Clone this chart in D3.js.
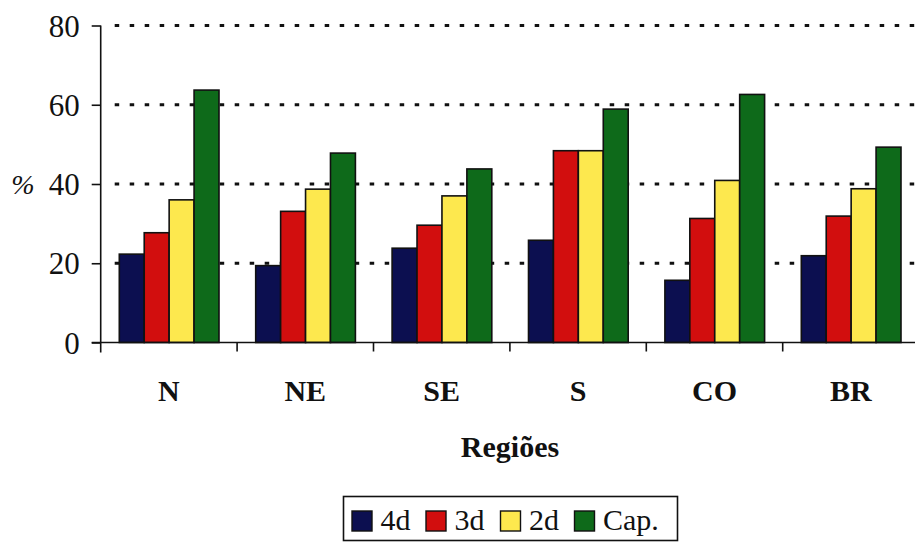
<!DOCTYPE html>
<html>
<head>
<meta charset="utf-8">
<script src="https://cdn.jsdelivr.net/npm/d3@7"></script>
<style>
  html, body { margin: 0; padding: 0; background: #fff; }
  svg { display: block; }
</style>
</head>
<body>
<svg id="chart" width="915" height="543"></svg>
<script>
const categories = ["N", "NE", "SE", "S", "CO", "BR"];
const seriesNames = ["4d", "3d", "2d", "Cap."];
const values4d  = [22.3, 19.4, 23.8, 25.8, 15.7, 21.9];
const values3d  = [27.7, 33.1, 29.6, 48.4, 31.3, 31.9];
const values2d  = [36.0, 38.7, 37.0, 48.4, 40.9, 38.8];
const valuesCap = [63.7, 47.8, 43.8, 58.9, 62.6, 49.3];
const yTicks = [0, 20, 40, 60, 80];
const colors = ["#0c0f50", "#d20e0e", "#fde84e", "#0e6a1a"];

const seriesValues = [values4d, values3d, values2d, valuesCap];

const svg = d3.select("#chart");
const plotLeft = 100.7, plotBottom = 342.5, plotTop = 25.5;
const step = 136.4;

const x0 = d3.scaleBand().domain(categories).range([plotLeft, plotLeft + step * categories.length]).padding(0);
const x1 = d3.scaleBand().domain(seriesNames).range([18.6, 118.3]).padding(0);
const y = d3.scaleLinear().domain([0, 80]).range([plotBottom, plotTop]);

// gridlines
svg.append("g").selectAll("line")
  .data(yTicks.filter(d => d > 0))
  .join("line")
  .attr("x1", plotLeft + 14).attr("x2", 915)
  .attr("y1", d => y(d)).attr("y2", d => y(d))
  .attr("stroke", "#111").attr("stroke-width", 3)
  .attr("stroke-dasharray", "4.5,10.5");

// bars
const groups = svg.append("g").selectAll("g")
  .data(categories)
  .join("g")
  .attr("transform", d => `translate(${x0(d)},0)`);

groups.selectAll("rect")
  .data((c, i) => seriesNames.map((s, k) => ({ s, k, v: seriesValues[k][i] })))
  .join("rect")
  .attr("x", d => x1(d.s))
  .attr("width", x1.bandwidth())
  .attr("y", d => y(d.v))
  .attr("height", d => y(0) - y(d.v))
  .attr("fill", d => colors[d.k])
  .attr("stroke", "#111")
  .attr("stroke-width", 1.6);

// y axis
const yAxis = svg.append("g")
  .attr("transform", `translate(${plotLeft},0)`)
  .call(d3.axisLeft(y).tickValues(yTicks).tickSize(9).tickPadding(12).tickSizeOuter(0));
yAxis.select(".domain").attr("stroke", "#111").attr("stroke-width", 1.6)
  .attr("d", `M0,${plotTop}V${plotBottom + 10}`);
yAxis.selectAll(".tick line").attr("stroke", "#111").attr("stroke-width", 1.6);
yAxis.selectAll(".tick text")
  .attr("font-size", 31).attr("fill", "#111").attr("dy", "0.34em");

// x axis baseline
svg.append("line")
  .attr("x1", plotLeft - 9).attr("x2", 915)
  .attr("y1", plotBottom).attr("y2", plotBottom)
  .attr("stroke", "#111").attr("stroke-width", 1.6);

// x ticks at band boundaries
svg.append("g").selectAll("line")
  .data(categories.slice(1))
  .join("line")
  .attr("x1", d => x0(d)).attr("x2", d => x0(d))
  .attr("y1", plotBottom).attr("y2", plotBottom + 9)
  .attr("stroke", "#111").attr("stroke-width", 1.6);

// x labels
const xAxis = svg.append("g")
  .attr("transform", `translate(0,${plotBottom})`)
  .call(d3.axisBottom(x0).tickSize(0).tickPadding(0));
xAxis.select(".domain").remove();
xAxis.selectAll(".tick text")
  .attr("font-size", 30).attr("font-weight", "bold").attr("fill", "#111")
  .attr("dy", 0).attr("y", 58.5);

// y label
svg.append("text")
  .attr("x", 23).attr("y", y(40))
  .attr("dy", "0.34em")
  .attr("text-anchor", "middle")
  .attr("font-size", 28).attr("font-style", "italic").attr("fill", "#111")
  .text("%");

// x title
svg.append("text")
  .attr("x", 510).attr("y", 457)
  .attr("text-anchor", "middle")
  .attr("font-size", 30).attr("font-weight", "bold").attr("fill", "#111")
  .text("Regiões");

// legend
const legend = svg.append("g");
legend.append("rect")
  .attr("x", 343.5).attr("y", 496.5).attr("width", 334).attr("height", 44)
  .attr("fill", "#fff").attr("stroke", "#111").attr("stroke-width", 1.6);
const legendX = [352, 426, 500.5, 574.5];
const items = legend.selectAll("g.item")
  .data(seriesNames)
  .join("g").attr("class", "item")
  .attr("transform", (d, i) => `translate(${legendX[i]},0)`);
items.append("rect")
  .attr("x", 0).attr("y", 511).attr("width", 20).attr("height", 20)
  .attr("fill", (d, i) => colors[i]).attr("stroke", "#111").attr("stroke-width", 1.4);
items.append("text")
  .attr("x", 28.5).attr("y", 530)
  .attr("font-size", 30).attr("fill", "#111")
  .text(d => d);

// serif font on every text
svg.selectAll("text").style("font-family", '"Liberation Serif"');
</script>
</body>
</html>
